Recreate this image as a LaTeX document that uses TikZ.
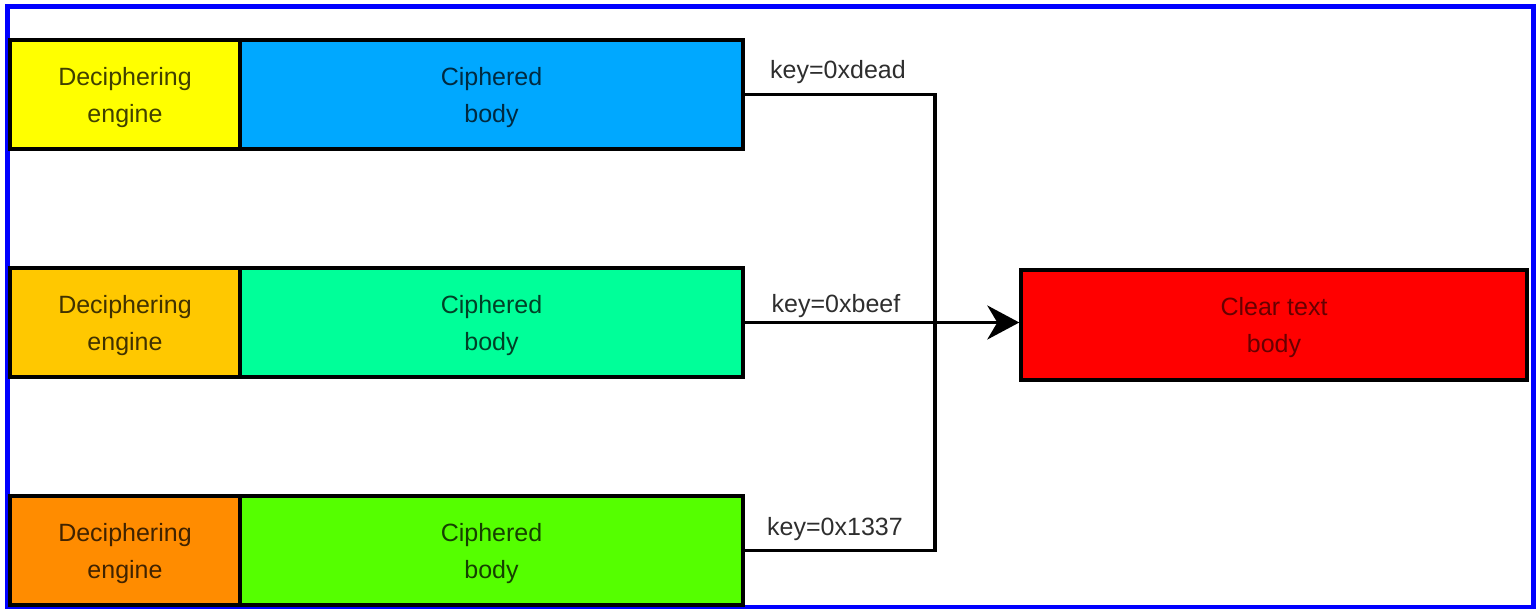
\documentclass[tikz,border=0pt]{standalone}
\usepackage{fontspec}
\setmainfont{Liberation Sans}
\usetikzlibrary{arrows.meta}

\definecolor{engineA}{RGB}{255,255,0}
\definecolor{engineB}{RGB}{255,200,0}
\definecolor{engineC}{RGB}{255,140,0}
\definecolor{bodyA}{RGB}{0,168,255}
\definecolor{bodyB}{RGB}{0,255,153}
\definecolor{bodyC}{RGB}{85,255,0}
\definecolor{clearred}{RGB}{255,0,0}
\definecolor{frameblue}{RGB}{0,0,255}

\tikzset{
  blk/.style={draw=black, line width=3.4pt, inner sep=0pt, minimum height=109pt,
    align=center, text=black, text opacity=0.75, text depth=-3pt,
    font=\fontsize{25}{37}\selectfont},
  engbox/.style={blk, minimum width=230pt},
  bodybox/.style={blk, minimum width=503pt},
  keylbl/.style={text=black!82, font=\fontsize{25}{30}\selectfont, inner sep=0pt},
  wire/.style={draw=black, line width=3.4pt}
}

\begin{document}
\begin{tikzpicture}[x=1pt,y=1pt,yscale=-1,xscale=1]
\useasboundingbox (0,0) rectangle (1539,609);

%Frame
\draw [frameblue, line width=5pt] (7,7) rectangle (1533,607);

%Row 1
\node [engbox, fill=engineA] (eng1) at (125,94.5) {Deciphering\\engine};
\node [bodybox, fill=bodyA] (body1) at (491.5,94.5) {Ciphered\\body};
%Row 2
\node [engbox, fill=engineB] (eng2) at (125,322.5) {Deciphering\\engine};
\node [bodybox, fill=bodyB] (body2) at (491.5,322.5) {Ciphered\\body};
%Row 3
\node [engbox, fill=engineC] (eng3) at (125,550.5) {Deciphering\\engine};
\node [bodybox, fill=bodyC] (body3) at (491.5,550.5) {Ciphered\\body};

%Result
\node [blk, fill=clearred, minimum width=506pt, minimum height=110pt, text opacity=0.6] (clear) at (1274,325) {Clear text\\body};

%Junction
\coordinate (bus) at (935,322.5);

%Straight Lines
\draw [wire] (body1.east) -| (bus);
\draw [wire] (body3.east) -| (bus);
\draw [wire, -{Stealth[length=32pt,width=34pt,inset=10pt]}] (body2.east) -- (body2.east -| clear.west);

% Text Node
\node [keylbl] (key1) at (838,72) {key=0xdead};
% Text Node
\node [keylbl] (key2) at (836,306) {key=0xbeef};
% Text Node
\node [keylbl] (key3) at (835,529) {key=0x1337};

\end{tikzpicture}
\end{document}
